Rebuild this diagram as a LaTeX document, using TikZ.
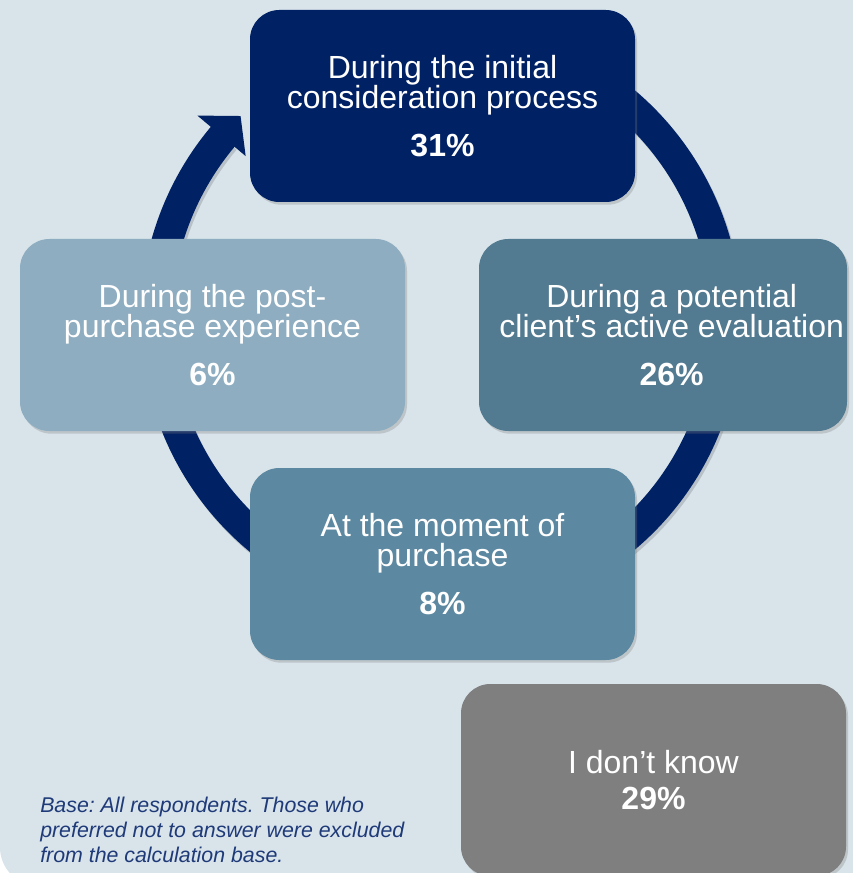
\documentclass[tikz,border=0pt]{standalone}
\usepackage{fontspec}
\setmainfont{Liberation Sans}
\usetikzlibrary{shadows}
\definecolor{bgc}{RGB}{216,227,234}
\definecolor{navy}{RGB}{0,33,100}
\definecolor{boxleft}{RGB}{142,173,193}
\definecolor{boxright}{RGB}{82,122,144}
\definecolor{boxbottom}{RGB}{92,137,161}
\definecolor{boxgray}{RGB}{127,127,127}
\definecolor{notec}{RGB}{31,58,120}
\frenchspacing
\begin{document}
\begin{tikzpicture}[x=0.75pt,y=-0.75pt,
  stagebox/.style={rounded corners=22pt, inner sep=0pt, minimum width=288.75pt,
    minimum height=144pt, text=white, align=center,
    font=\fontsize{24}{22.5}\selectfont,
    drop shadow={shadow xshift=1.5pt, shadow yshift=-2pt, opacity=0.3}},
  ringline/.style={draw=navy, line width=23.25pt},
  ringshadow/.style={draw=black, line width=23.25pt, opacity=0.15}]
\useasboundingbox (0,0) rectangle (852,873);
\fill[bgc, rounded corners=29pt] (0,-60) rectangle (900,886);
% cycle ring
\coordinate (c) at (441,320);
\coordinate (cs) at (443,323);
\draw[ringshadow] ([shift={(-70:285)}]cs) arc[start angle=-70, end angle=220, radius=285];
\draw[ringline] ([shift={(-70:285)}]c) arc[start angle=-70, end angle=220.5, radius=285];
\fill[navy] ([shift={(220:318)}]c) -- ([shift={(225.5:286)}]c) -- ([shift={(220:255)}]c) -- cycle;
% boxes
\node[stagebox, fill=navy] (initial) at (442.5,106)
  {During the initial\\consideration process\\[14pt]\textbf{31\%}};
\node[stagebox, fill=boxleft] (post) at (212.5,335)
  {During the post-\\purchase experience\\[14pt]\textbf{6\%}};
\node[stagebox, fill=boxright, minimum width=276pt] (active) at (663,335)
  {\hspace*{13pt}During a potential\\\hspace*{13pt}client’s active evaluation\\[14pt]\hspace*{13pt}\textbf{26\%}};
\node[stagebox, fill=boxbottom] (purchase) at (442.5,564)
  {At the moment of\\purchase\\[14pt]\textbf{8\%}};
\node[stagebox, fill=boxgray] (dontknow) at (653.5,780)
  {I don’t know\\[4.5pt]\textbf{29\%}};
% footnote
\node[anchor=west, align=left, inner sep=0pt, text=notec,
  font=\fontsize{16}{19}\selectfont\itshape] (note) at (40,830)
  {Base: All respondents. Those who\\preferred not to answer were excluded\\from the calculation base.};
\end{tikzpicture}
\end{document}
